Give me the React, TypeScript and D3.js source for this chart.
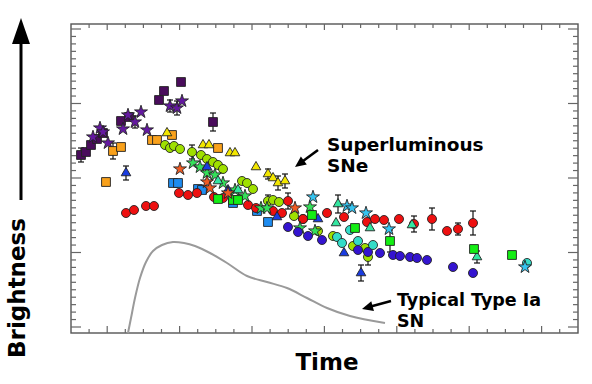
import * as d3 from 'd3';

const W = 592;
const H = 384;
const FRAME = { left: 71, top: 24, right: 578, bottom: 333 };

// [time, brightness, error?] in arbitrary units
type Pt = [number, number, number?];

const purpleSquares: Pt[] = [
  [2, 35.6, 1.4], [3, 36.2], [4, 37.6], [5.2, 38.8], [6.4, 40], [10, 42.4],
  [11.6, 43.2], [17.6, 46.6], [18.6, 48.4], [22, 50.2], [28.4, 42.2, 1.8],
];
const purpleStars: Pt[] = [
  [4.4, 39.2], [5.8, 41], [6.4, 40.2], [7.4, 38], [10.4, 40.8], [11.4, 43.6],
  [12.8, 42.2, 1.2], [14, 44.2], [15.2, 40.6], [19.8, 45.4, 1.2], [21.2, 45, 1.4], [22.2, 46.4],
];
const orangeSquares: Pt[] = [
  [7, 30.2], [8.4, 36.4, 1.6], [10, 37.2], [16.2, 38.6], [17.2, 38.6], [20.2, 39.6], [29.4, 37],
];
const yellowTriangles: Pt[] = [
  [19.2, 40], [26.4, 37.6], [27.6, 37.6], [31.8, 36], [32.8, 36], [37, 33.2],
  [39.4, 31.8, 1], [40.4, 31], [41.4, 30, 1.4], [42.8, 30.4, 1.4],
];
const limeCircles: Pt[] = [
  [18.8, 37.6], [19.8, 37], [20.6, 37.4], [21.8, 36.8], [24.2, 36.2, 1.4], [26, 35.6],
  [27.2, 34.8], [28.4, 34.2], [29.4, 33.6], [30.4, 32.8], [34.2, 30.4], [35.2, 30],
  [36.4, 28.8], [39.4, 26.4, 1.2], [40.4, 26.6], [41.6, 26.2], [44.6, 23.4], [46.4, 22.8],
  [49.4, 20.4], [52.4, 19.4], [56.4, 17.4], [58.8, 17], [59.4, 15.2, 1.6],
];
const redCircles: Pt[] = [
  [11, 24], [12.6, 24.6], [15, 25.4], [16.6, 25.4], [21.6, 28], [23.4, 27.6],
  [25.2, 28], [28.6, 27.2], [30.4, 27], [35.4, 25.6], [37, 25], [40.4, 24.4],
  [42.2, 24], [43.4, 26.4, 1.6], [46.4, 22.8], [51.2, 24], [54.6, 23.2], [59.2, 22.2],
  [60.8, 22.8], [62.6, 22.6], [65.6, 22.8], [68.6, 21.8, 1.6], [72.2, 22.8, 2.2],
  [75.2, 20.4], [77.4, 20.8, 1.2], [80.4, 22, 2.4],
];
const azureSquares: Pt[] = [
  [20.4, 30], [21.4, 30], [25.4, 28.8], [26.2, 28.6], [32.4, 26], [37.2, 24.4], [39.4, 22.2],
];
const blueTriangles: Pt[] = [
  [11, 32, 1.4], [27.2, 33.2], [31.4, 28.6], [41.2, 23.2], [49.4, 22.8], [54.6, 16], [58, 12, 1.6],
];
const indigoCircles: Pt[] = [
  [43.4, 21.2], [45.4, 20.2], [47.4, 19.4], [50.2, 18.6], [57.4, 16.6], [59.4, 16.2],
  [61.8, 16], [64.4, 15.6], [65.8, 15.4], [67.8, 15.2], [69.2, 15], [71.2, 14.6],
  [76.4, 13.2], [80.4, 12],
];
const turquoiseCircles: Pt[] = [
  [53.2, 19.2], [54.2, 18], [55.8, 20.6], [57.4, 18.4], [60.4, 17.6], [91.2, 14],
];
const mintTriangles: Pt[] = [
  [29.4, 30.4], [33.4, 28.6], [53.4, 25.8, 1.8], [53, 22], [59.8, 21], [68.2, 21.6], [81.2, 15.2, 1.2],
];
const skyStars: Pt[] = [
  [48.4, 27.2], [55.2, 25.4], [56.2, 25], [59, 24], [63.6, 20.8], [90.8, 13.2],
];
const greenStars: Pt[] = [
  [24.4, 34], [25.8, 33.2], [27.2, 32], [28.8, 31.6], [30.4, 30], [32.8, 28.6],
  [34.8, 27.4], [38, 25], [39.2, 25], [45.8, 21], [47.8, 25.2], [48.8, 20.4],
];
const greenSquares: Pt[] = [
  [29.4, 26.8], [32.4, 26.6], [33.4, 26.6], [48.2, 23.6], [56.8, 21], [63.8, 18.4, 2.2],
  [80.6, 16.8], [88.2, 15.6],
];
const orangeStars: Pt[] = [
  [21.8, 32.8], [27.2, 30.2], [27.8, 29], [31.4, 28], [44.8, 25],
];

// typical Type Ia light curve
const typeIaCurve: [number, number][] = [
  [11.4, 0], [12, 3], [12.8, 7], [13.8, 11], [15, 14.2], [16.4, 16.4], [18.2, 17.6],
  [20.4, 18.2], [22.6, 18], [24.8, 17.4], [27.8, 16], [31.2, 14], [35.2, 11.4],
  [39.2, 10.2], [43.2, 9], [47.2, 7], [51.2, 5], [55.8, 3.4], [62.8, 2],
];

type Shape = 'circle' | 'square' | 'star' | 'triangle';
const SERIES: { pts: Pt[]; color: string; shape: Shape }[] = [
  { pts: purpleSquares, color: '#4a0c5c', shape: 'square' },
  { pts: purpleStars, color: '#6418a0', shape: 'star' },
  { pts: orangeSquares, color: '#f9a11b', shape: 'square' },
  { pts: yellowTriangles, color: '#f2e600', shape: 'triangle' },
  { pts: azureSquares, color: '#1e8cf0', shape: 'square' },
  { pts: limeCircles, color: '#9fe000', shape: 'circle' },
  { pts: redCircles, color: '#ee1010', shape: 'circle' },
  { pts: greenStars, color: '#34e05a', shape: 'star' },
  { pts: blueTriangles, color: '#1a3ce0', shape: 'triangle' },
  { pts: indigoCircles, color: '#3414d0', shape: 'circle' },
  { pts: turquoiseCircles, color: '#33dcc8', shape: 'circle' },
  { pts: mintTriangles, color: '#33e6a0', shape: 'triangle' },
  { pts: skyStars, color: '#35c4f0', shape: 'star' },
  { pts: greenSquares, color: '#14ee14', shape: 'square' },
  { pts: orangeStars, color: '#f05a22', shape: 'star' },
];

const SYMBOLS = {
  circle: { type: d3.symbolCircle, size: 64 },
  square: { type: d3.symbolSquare, size: 78 },
  star: { type: d3.symbolStar, size: 52 },
  triangle: { type: d3.symbolTriangle, size: 40 },
};

const x = d3.scaleLinear().domain([0, 101.4]).range([FRAME.left, FRAME.right]);
const y = d3.scaleLinear().domain([0, 61.8]).range([FRAME.bottom, FRAME.top]);

const X_STEP = 3.62;
const Y_STEP = 1.49;
const xTicks = d3.range(1, 28).map((i) => ({ v: i * X_STEP, major: (i - 2) % 4 === 0 }));
const yTicks = d3.range(0, 41).map((k) => ({ v: 1.2 + k * Y_STEP, major: k % 10 === 0 }));

const FONT = '"DejaVu Sans", Verdana, sans-serif';

function Arrow({ x1, y1, x2, y2, w = 2.6, head = 11, hw = 5 }: any) {
  const dx = x2 - x1;
  const dy = y2 - y1;
  const len = Math.hypot(dx, dy);
  const ux = dx / len;
  const uy = dy / len;
  const bx = x2 - ux * head;
  const by = y2 - uy * head;
  const pts = [
    [x2, y2],
    [bx - uy * hw, by + ux * hw],
    [bx + uy * hw, by - ux * hw],
  ];
  return (
    <g>
      <line x1={x1} y1={y1} x2={bx + ux} y2={by + uy} stroke="#000" strokeWidth={w} />
      <polygon points={pts.map((p) => p.join(',')).join(' ')} fill="#000" />
    </g>
  );
}

export default function App() {
  const line = d3
    .line<[number, number]>()
    .x((d) => x(d[0]))
    .y((d) => y(d[1]))
    .curve(d3.curveCatmullRom.alpha(0.5));

  return (
    <svg
      width={W}
      height={H}
      style={{ position: 'absolute', left: 0, top: 0, background: '#fff' }}
    >
      <rect width={W} height={H} fill="#fff" />

      {/* frame */}
      <rect
        x={FRAME.left}
        y={FRAME.top}
        width={FRAME.right - FRAME.left}
        height={FRAME.bottom - FRAME.top}
        fill="none"
        stroke="#555"
        strokeWidth={1.4}
      />
      {xTicks.map((t, i) => (
        <g key={'x' + i} stroke="#666" strokeWidth={1.2}>
          <line x1={x(t.v)} x2={x(t.v)} y1={FRAME.bottom} y2={FRAME.bottom - (t.major ? 7 : 4)} />
          <line x1={x(t.v)} x2={x(t.v)} y1={FRAME.top} y2={FRAME.top + (t.major ? 6 : 4)} />
        </g>
      ))}
      {yTicks.map((t, i) => (
        <g key={'y' + i} stroke="#666" strokeWidth={1.2}>
          <line x1={FRAME.left} x2={FRAME.left + (t.major ? 10 : 5)} y1={y(t.v)} y2={y(t.v)} />
          <line x1={FRAME.right} x2={FRAME.right - (t.major ? 10 : 5)} y1={y(t.v)} y2={y(t.v)} />
        </g>
      ))}

      {/* Type Ia curve */}
      <path d={line(typeIaCurve) || ''} fill="none" stroke="#9a9a9a" strokeWidth={2} />

      {/* error bars */}
      {SERIES.flatMap((s, si) =>
        s.pts
          .filter((p) => p[2])
          .map((p, i) => {
            const cx = x(p[0]);
            const top = y(p[1] + (p[2] as number));
            const bot = y(p[1] - (p[2] as number));
            return (
              <g key={`e${si}-${i}`} stroke="#111" strokeWidth={1.2}>
                <line x1={cx} x2={cx} y1={top} y2={bot} />
                <line x1={cx - 3} x2={cx + 3} y1={top} y2={top} />
                <line x1={cx - 3} x2={cx + 3} y1={bot} y2={bot} />
              </g>
            );
          }),
      )}

      {/* markers */}
      {SERIES.flatMap((s, si) => {
        const sym = SYMBOLS[s.shape];
        const d = d3.symbol(sym.type, sym.size)() || '';
        return s.pts.map((p, i) => (
          <path
            key={`m${si}-${i}`}
            d={d}
            transform={`translate(${x(p[0])},${y(p[1])})`}
            fill={s.color}
            stroke="#222"
            strokeWidth={0.9}
          />
        ));
      })}

      {/* annotations */}
      <text x={327} y={151} fontFamily={FONT} fontWeight="bold" fontSize={18.5} fill="#000">
        Superluminous
      </text>
      <text x={327} y={172} fontFamily={FONT} fontWeight="bold" fontSize={18.5} fill="#000">
        SNe
      </text>
      <Arrow x1={318} y1={150} x2={295} y2={167} />

      <text x={397} y={306} fontFamily={FONT} fontWeight="bold" fontSize={17.5} fill="#000">
        Typical Type Ia
      </text>
      <text x={397} y={327} fontFamily={FONT} fontWeight="bold" fontSize={17.5} fill="#000">
        SN
      </text>
      <Arrow x1={391} y1={301} x2={362} y2={309} />

      <text
        x={327}
        y={370}
        textAnchor="middle"
        fontFamily={FONT}
        fontWeight="bold"
        fontSize={23}
        fill="#000"
      >
        Time
      </text>
      <text
        transform="translate(25,288) rotate(-90)"
        textAnchor="middle"
        fontFamily={FONT}
        fontWeight="bold"
        fontSize={23}
        fill="#000"
      >
        Brightness
      </text>
      <Arrow x1={21} y1={200} x2={21} y2={18} w={3} head={26} hw={9} />
    </svg>
  );
}
